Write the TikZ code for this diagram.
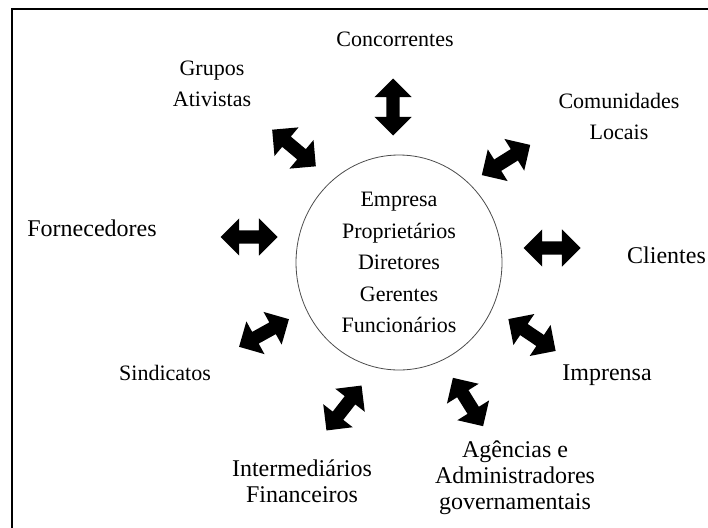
\documentclass[tikz,border=0pt]{standalone}
\usepackage{fontspec}
\setmainfont{Liberation Serif}
\usetikzlibrary{shapes.geometric, shapes.arrows, positioning}

\tikzset{
  dblarr/.style={double arrow, fill=black, draw=none, inner sep=6.5pt,
    minimum height=57pt, double arrow head extend=12pt},
  rotulo/.style={align=center, inner sep=0pt, font=\fontsize{22}{31}\selectfont},
  rotulog/.style={align=center, inner sep=0pt, font=\fontsize{24}{26}\selectfont},
  nucleo/.style={ellipse, draw=black!70, line width=0.8pt, inner sep=0pt,
    minimum width=206pt, minimum height=215pt, align=center,
    font=\fontsize{22}{31.5}\selectfont},
}

\begin{document}
\begin{tikzpicture}[x=1pt, y=-1pt]
	\useasboundingbox (0,0) rectangle (708,527);
	\clip (0,0) rectangle (708,527);
	
	% moldura
	\draw[line width=1.6pt] (12,540) -- (12,9) -- (720,9);
	
	% centro
	\node[nucleo] (empresa) at (399,262.5)
		{Empresa\\Proprietários\\Diretores\\Gerentes\\Funcionários};
	
	% partes interessadas
	\node[rotulo] (conc) at (395,39) {Concorrentes};
	\node[rotulo] (grupos) at (212,83.5) {Grupos\\Ativistas};
	\node[rotulo] (comun) at (619,116.5) {Comunidades\\Locais};
	\node[rotulog] (forn) at (92,228) {Fornecedores};
	\node[rotulog, anchor=west] (cli) at (627,255) {Clientes};
	\node[rotulo] (sind) at (165,373) {Sindicatos};
	\node[rotulog] (impr) at (607,375) {Imprensa};
	\node[rotulog] (inter) at (302,481) {Intermediários\\Financeiros};
	\node[rotulog] (agenc) at (515,478) {Agências e\\Administradores\\governamentais};
	
	% setas duplas
	\node[dblarr, rotate=90] (a-conc) at (393,107) {};
	\node[dblarr, rotate=-40] (a-grupos) at (294,148) {};
	\node[dblarr, rotate=32] (a-comun) at (506,160) {};
	\node[dblarr] (a-forn) at (249,237) {};
	\node[dblarr] (a-cli) at (552,248) {};
	\node[dblarr, rotate=29] (a-sind) at (264,333) {};
	\node[dblarr, rotate=-34] (a-impr) at (532,335) {};
	\node[dblarr, rotate=-58] (a-agenc) at (468,402) {};
	\node[dblarr, rotate=52] (a-inter) at (344,408) {};
\end{tikzpicture}
\end{document}
